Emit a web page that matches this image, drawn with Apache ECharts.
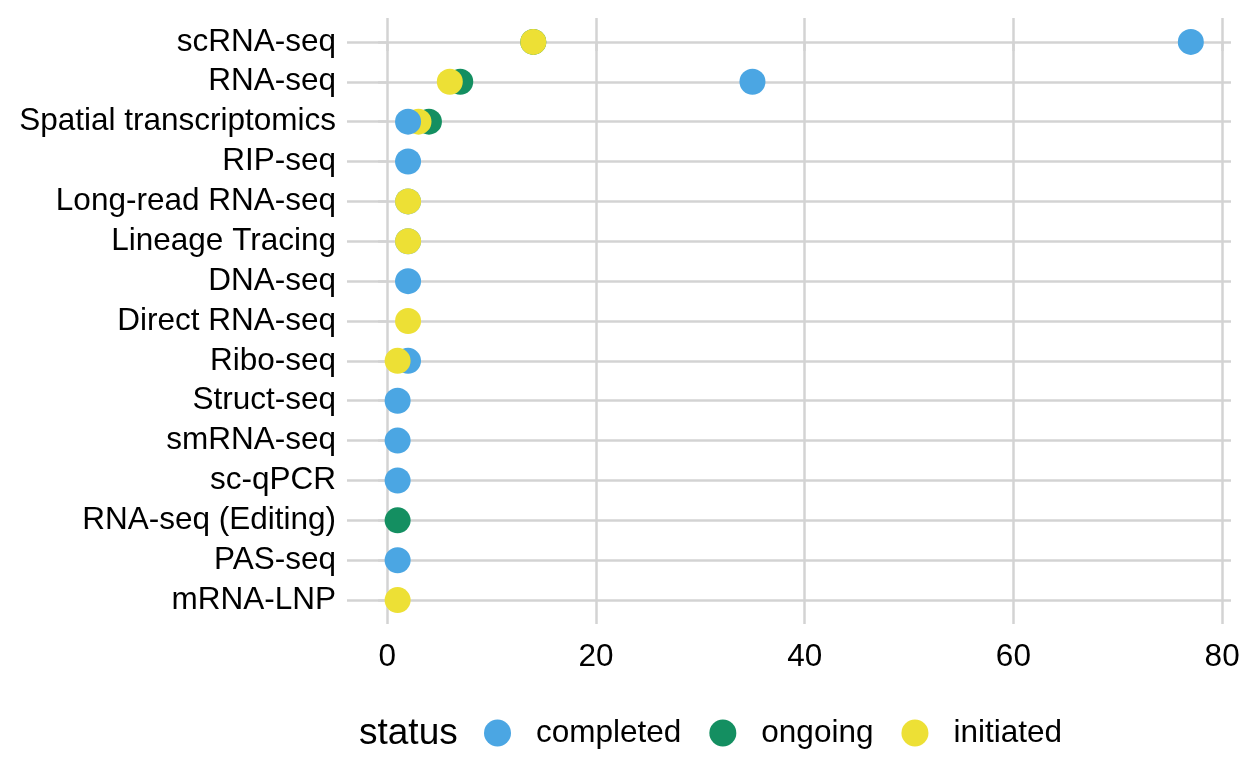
<!DOCTYPE html>
<html>
<head>
<meta charset="utf-8">
<script src="https://cdn.jsdelivr.net/npm/echarts@6/dist/echarts.min.js"></script>
<style>html,body{margin:0;padding:0;background:#fff;}#c{width:1248px;height:768px;}</style>
</head>
<body>
<div id="c"></div>
<script>
var categories = ["scRNA-seq","RNA-seq","Spatial transcriptomics","RIP-seq","Long-read RNA-seq","Lineage Tracing","DNA-seq","Direct RNA-seq","Ribo-seq","Struct-seq","smRNA-seq","sc-qPCR","RNA-seq (Editing)","PAS-seq","mRNA-LNP"];
var completed = [77, 35, 2, 2, 2, 2, 2, null, 2, 1, 1, 1, null, 1, null];
var ongoing   = [14, 7, 4, null, null, null, null, null, null, null, null, null, 1, null, null];
var initiated = [14, 6, 3, null, 2, 2, null, 2, 1, null, null, null, null, null, 1];
var statuses = ["completed","ongoing","initiated"];
var colors = {completed:"#4BA6E3", ongoing:"#148F61", initiated:"#EDE035"};
var xTicks = [0, 20, 40, 60, 80];

var sets = {completed: completed, ongoing: ongoing, initiated: initiated};
var pts = [];
statuses.forEach(function (s, si) {
  sets[s].forEach(function (v, i) {
    if (v !== null) pts.push({v: v, i: i, s: s, si: si});
  });
});
// draw larger values first so smaller ones sit on top
pts.sort(function (a, b) { return b.v - a.v || a.si - b.si; });
var data = pts.map(function (p) {
  return {value: [p.v, p.i], itemStyle: {color: colors[p.s], opacity: 1}};
});

var gridColor = "#D3D3D3";
var chart = echarts.init(document.getElementById('c'));
var series = [{
  type: 'scatter',
  name: '_points',
  data: data,
  symbol: 'circle',
  symbolSize: 26,
  itemStyle: {opacity: 1},
  silent: true
}];
statuses.forEach(function (s) {
  series.push({type: 'scatter', name: s, data: [], symbolSize: 26, itemStyle: {color: colors[s], opacity: 1}});
});

chart.setOption({
  animation: false,
  backgroundColor: '#fff',
  grid: {left: 347, right: 17, top: 18, bottom: 144, containLabel: false},
  title: {
    text: 'status', left: 354, top: 710,
    textStyle: {fontFamily: 'Liberation Sans', fontSize: 37, fontWeight: 'normal', color: '#000'}
  },
  legend: {
    data: statuses,
    left: 479, top: 712,
    icon: 'circle',
    itemWidth: 27, itemHeight: 27,
    itemGap: 28,
    textStyle: {fontFamily: 'Liberation Sans', fontSize: 31.5, color: '#000', padding: [0, 0, 0, 20]}
  },
  xAxis: {
    type: 'value', min: -3.85, max: 80.85,
    axisLine: {show: false},
    axisTick: {show: true, length: 9, customValues: xTicks, lineStyle: {color: gridColor, width: 2.5}},
    axisLabel: {customValues: xTicks, margin: 17, fontFamily: 'Liberation Sans', fontSize: 31.5, color: '#000'},
    splitLine: {show: true, lineStyle: {color: gridColor, width: 2.5}}
  },
  yAxis: {
    type: 'value', inverse: true, min: -0.6, max: 14.6,
    axisLine: {show: false},
    axisTick: {show: true, length: 9, customValues: categories.map(function (c, i) { return i; }), lineStyle: {color: gridColor, width: 2.5}},
    axisLabel: {
      customValues: categories.map(function (c, i) { return i; }),
      margin: 11, fontFamily: 'Liberation Sans', fontSize: 31.5, color: '#000',
      padding: [4, 0, 0, 0],
      formatter: function (v) { return categories[Math.round(v)]; }
    },
    splitLine: {show: true, lineStyle: {color: gridColor, width: 2.5}}
  },
  series: series
});
</script>
</body>
</html>
